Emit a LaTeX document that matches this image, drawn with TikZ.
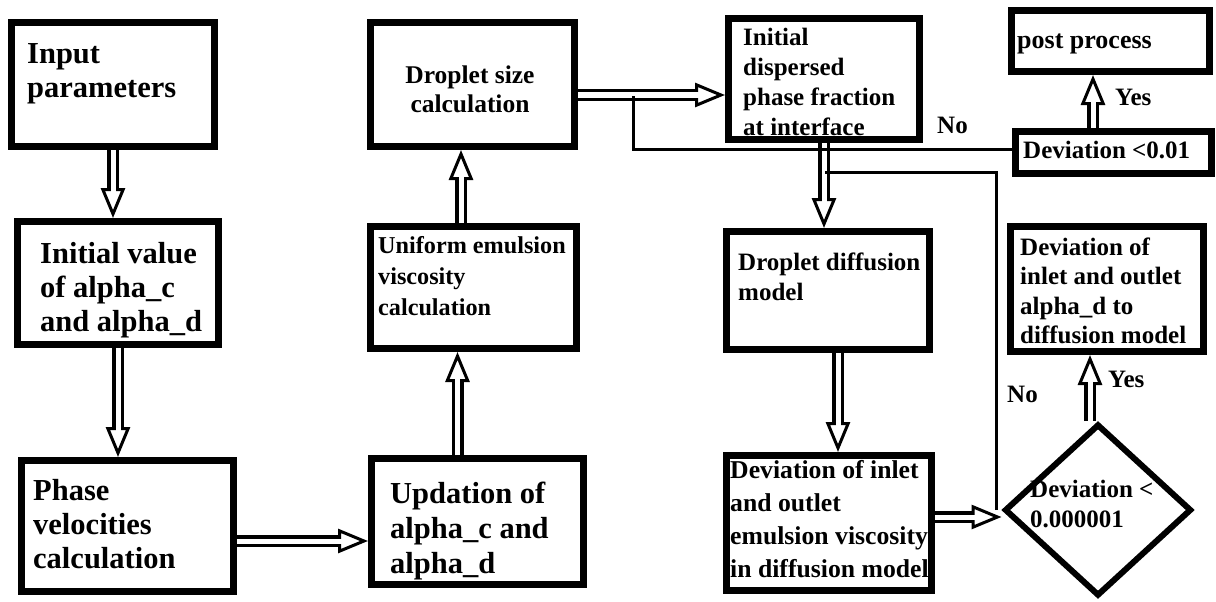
\documentclass[tikz,border=0pt]{standalone}
\usepackage{fontspec}
\setmainfont{Liberation Serif}
\usetikzlibrary{arrows.meta,shapes.geometric,calc}
\newcommand{\fls}{\rule{0pt}{20pt}}
\newcommand{\flb}{\rule{0pt}{23pt}}
\begin{document}
\begin{tikzpicture}[x=1pt,y=-1pt,
  box/.style={draw, line width=7pt, rectangle, inner sep=0pt},
  txt/.style={anchor=north west, inner sep=0pt, align=left, font=\fontsize{25}{31}\selectfont\bfseries},
  big/.style={font=\fontsize{30.5}{34}\selectfont\bfseries},
  conn/.style={line width=3pt},
  barrow/.style={line width=12pt, -{Triangle[open, length=30pt, width=24pt, line width=3pt]},
    postaction={draw=white, line width=5pt, -, shorten >=16pt}}]
\useasboundingbox (0,0) rectangle (1216,602);
% boxes
\node[box, minimum width=203pt, minimum height=124pt] (b1) at (113,84.5) {};
\node[box, minimum width=201pt, minimum height=123pt] (b2) at (118,283) {};
\node[box, minimum width=212pt, minimum height=131pt] (b3) at (127.5,526) {};
\node[box, minimum width=204pt, minimum height=124pt] (b4) at (472.5,84.5) {};
\node[box, minimum width=206pt, minimum height=122pt] (b5) at (473.5,287.5) {};
\node[box, minimum width=212pt, minimum height=126pt] (b6) at (477.5,521.5) {};
\node[box, minimum width=191pt, minimum height=121pt] (b7) at (824,79) {};
\node[box, minimum width=203pt, minimum height=118pt] (b8) at (828,290.5) {};
\node[box, minimum width=205pt, minimum height=135pt] (b9) at (829,523) {};
\node[box, minimum width=198pt, minimum height=61pt] (b10) at (1110.5,41) {};
\node[box, minimum width=196pt, minimum height=42pt] (b11) at (1113.5,152.5) {};
\node[box, minimum width=193pt, minimum height=125pt] (b12) at (1107,289) {};
\node[diamond, draw, line width=6pt, minimum width=187pt, minimum height=172pt, inner sep=0pt] (d) at (1098,510) {};
% texts
\node[txt, big] (t1) at (27,40) {\flb Input\\parameters};
\node[txt, big] (t2) at (40,240) {\flb Initial value\\of alpha\_c\\and alpha\_d};
\node[txt, big] (t3) at (33,477) {\flb Phase\\velocities\\calculation};
\node[txt, align=center, anchor=north, font=\fontsize{25.5}{29}\selectfont\bfseries] (t4) at (470,63) {\fls Droplet size\\calculation};
\node[txt, font=\fontsize{24.2}{31}\selectfont\bfseries] (t5) at (378,233) {\fls Uniform emulsion\\viscosity\\calculation};
\node[txt, font=\fontsize{30.5}{35}\selectfont\bfseries] (t6) at (390,480) {\flb Updation of\\alpha\_c and\\alpha\_d};
\node[txt, font=\fontsize{25}{30}\selectfont\bfseries] (t7) at (743,25) {\fls Initial\\dispersed\\phase fraction\\at interface};
\node[txt, font=\fontsize{25}{30}\selectfont\bfseries] (t8) at (738,250) {\fls Droplet diffusion\\model};
\node[txt, font=\fontsize{25.7}{33}\selectfont\bfseries] (t9) at (730,458) {\fls Deviation of inlet\\and outlet\\emulsion viscosity\\in diffusion model};
\node[txt, font=\fontsize{26}{31}\selectfont\bfseries] (t10) at (1017,28) {\fls post process};
\node[txt] (t11) at (1023,138) {\fls Deviation <0.01};
\node[txt, font=\fontsize{25}{29.5}\selectfont\bfseries] (t12) at (1020,235) {\fls Deviation of\\inlet and outlet\\alpha\_d to\\diffusion model};
\node[txt, font=\fontsize{25}{30}\selectfont\bfseries] (td) at (1030,477) {\fls Deviation <\\0.000001};
% arrows
\draw[barrow] (b1.south) -- (b1.south |- b2.north);
\draw[barrow] (b2.south) -- (b2.south |- b3.north);
\draw[barrow] ([yshift=-15pt]b3.east) -- ([yshift=-15pt]b3.east -| b6.west);
\draw[barrow] ([xshift=-20pt]b6.north) -- ([xshift=-20pt]b6.north |- b5.south);
\draw[barrow] ([xshift=-12.5pt]b5.north) -- ([xshift=-12.5pt]b5.north |- b4.south);
\draw[barrow] ([yshift=-10.5pt]b4.east) -- ([yshift=-10.5pt]b4.east -| b7.west);
\draw[barrow] (b7.south) -- (b7.south |- b8.north);
\draw[barrow] ([xshift=10pt]b8.south) -- ([xshift=10pt]b8.south |- b9.north);
\draw[barrow] ([yshift=6pt]b9.east) -- ([yshift=6pt]b9.east -| d.west);
\draw[barrow] ([xshift=-8pt]d.north) -- ([xshift=-8pt]d.north |- b12.south);
\draw[barrow] ([xshift=-20.5pt]b11.north) -- ([xshift=-20.5pt]b11.north |- b10.south);
% No loops
\coordinate (n1) at (633,96);
\coordinate (n2) at (825,172);
\draw[conn] ([yshift=3pt]b11.west) -| (n1);
\draw[conn] ([xshift=-5pt]d.west) |- (n2);
% labels
\node[txt] (no1) at (937,113) {\fls No};
\node[txt] (yes1) at (1115,85) {\fls Yes};
\node[txt] (yes2) at (1108,367) {\fls Yes};
\node[txt] (no2) at (1007,382) {\fls No};
\end{tikzpicture}
\end{document}
